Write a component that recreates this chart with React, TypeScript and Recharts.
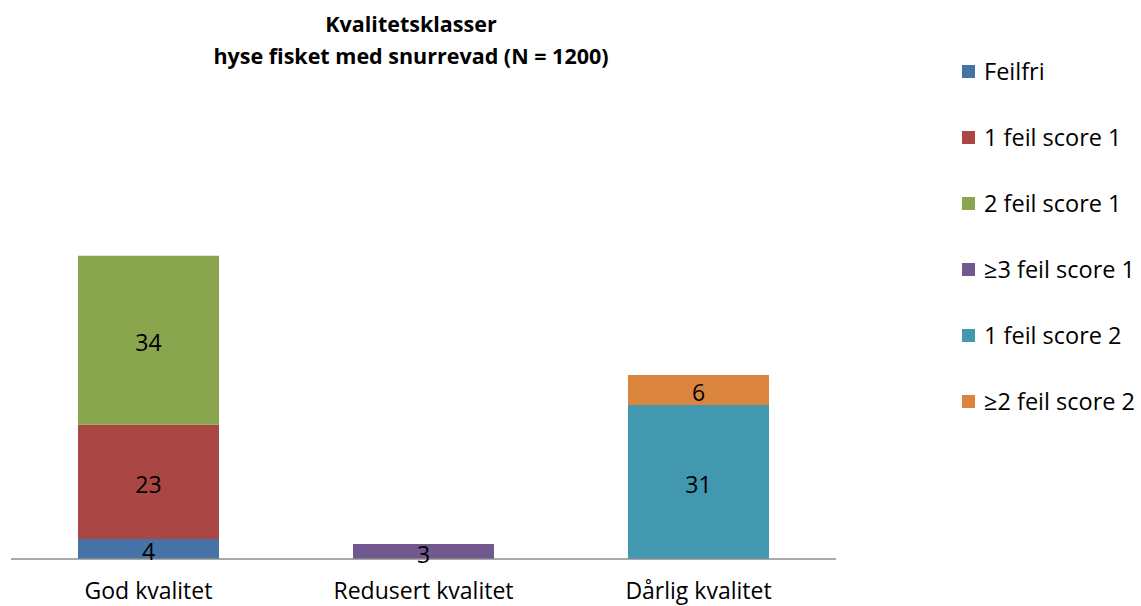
import React from "react"
import { BarChart, Bar, XAxis, YAxis, LabelList } from "recharts"

const FONT = "'Open Sans', Lato, sans-serif"

const categories = ["God kvalitet", "Redusert kvalitet", "Dårlig kvalitet"]

// percent per quality class, null where the series has no share
const feilfri = [4, null, null]
const feil1Score1 = [23, null, null]
const feil2Score1 = [34, null, null]
const feil3Score1 = [null, 3, null]
const feil1Score2 = [null, null, 31]
const feil2Score2 = [null, null, 6]

const series = [
  { key: "feilfri", name: "Feilfri", values: feilfri, color: "#4572A7" },
  { key: "f1s1", name: "1 feil score 1", values: feil1Score1, color: "#AA4643" },
  { key: "f2s1", name: "2 feil score 1", values: feil2Score1, color: "#89A54E" },
  { key: "f3s1", name: "≥3 feil score 1", values: feil3Score1, color: "#71588F" },
  { key: "f1s2", name: "1 feil score 2", values: feil1Score2, color: "#4198AF" },
  { key: "f2s2", name: "≥2 feil score 2", values: feil2Score2, color: "#DB843D" },
]

const rows = categories.map((cat, i) => {
  const row: Record<string, string | number | null> = { cat }
  series.forEach(s => { row[s.key] = s.values[i] })
  return row
})

export default function App() {
  return (
    <div style={{ position: "fixed", left: 0, top: 0, width: 1141, height: 606, background: "#fff", fontFamily: FONT }}>
      <div style={{ position: "absolute", left: 111, width: 600, top: 8, textAlign: "center", fontWeight: 700, fontSize: 21.5, lineHeight: "32px", color: "#000" }}>
        <div>Kvalitetsklasser</div>
        <div>hyse fisket med snurrevad (N = 1200)</div>
      </div>

      <BarChart
        width={1141}
        height={606}
        data={rows}
        margin={{ top: 211, right: 305, bottom: 0, left: 11 }}
        style={{ position: "absolute", left: 0, top: 0 }}
      >
        <XAxis
          dataKey="cat"
          height={47}
          tickLine={false}
          tickSize={0}
          tickMargin={24}
          axisLine={{ stroke: "#8c8c8c", strokeWidth: 1.5 }}
          tick={{ fontFamily: FONT, fontSize: 23, fill: "#000" }}
        />
        <YAxis hide domain={[0, 70]} />
        {series.map(s => (
          <Bar key={s.key} dataKey={s.key} name={s.name} stackId="a" fill={s.color} barSize={141} isAnimationActive={false}>
            <LabelList
              dataKey={s.key}
              position="center"
              dy={3}
              formatter={(v: unknown) => (v == null ? "" : String(v))}
              style={{ fontFamily: FONT, fontSize: 23, fill: "#000" }}
            />
          </Bar>
        ))}
      </BarChart>

      {/* legend */}
      <div style={{ position: "absolute", left: 962, top: 38 }}>
        {series.map(s => (
          <div key={s.key} style={{ height: 66, display: "flex", alignItems: "center" }}>
            <div style={{ width: 13, height: 13, background: s.color, marginRight: 9 }} />
            <span style={{ fontSize: 23.5, color: "#000", lineHeight: "30px" }}>{s.name}</span>
          </div>
        ))}
      </div>
    </div>
  )
}
